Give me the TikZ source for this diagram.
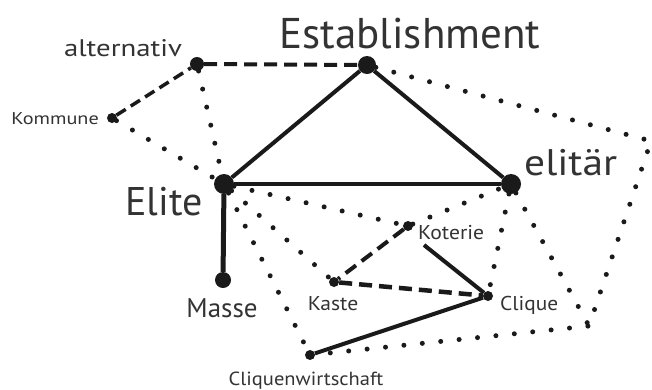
\documentclass[tikz,border=0pt]{standalone}
\usepackage{fontspec}
\setmainfont{PT Sans}
\definecolor{ink}{HTML}{1A1A1A}
\definecolor{txt}{HTML}{333333}
\newcommand{\wide}[2]{\scalebox{#1}[1]{#2}}
\begin{document}
\begin{tikzpicture}[x=1pt,y=-1pt,
  dotnode/.style={circle,fill=ink,inner sep=0pt,minimum size=#1},
  lbl/.style={text=txt,inner sep=0pt},
  solidline/.style={draw=ink,line width=4pt},
  dashline/.style={draw=ink,line width=4pt,dash pattern=on 13pt off 7pt},
  dotline/.style={draw=ink,line width=5pt,line cap=round,dash pattern=on 0pt off 18.5pt},
]
\useasboundingbox (0,0) rectangle (652,389);
\fill[white] (0,0) rectangle (652,389);
% nodes (dots)
\node[dotnode=18pt] (est) at (367,65) {};
\node[dotnode=14pt] (alt) at (197,64) {};
\node[dotnode=10pt] (kom) at (112,118) {};
\node[dotnode=20pt] (eli) at (224,184) {};
\node[dotnode=20pt] (elr) at (511,184) {};
\node[dotnode=16pt] (mas) at (223,280) {};
\node[dotnode=10pt] (kot) at (408,226) {};
\node[dotnode=10pt] (kas) at (334,282) {};
\node[dotnode=10pt] (cli) at (488,296) {};
\node[dotnode=10pt] (cw) at (310,355) {};
% labels
\node[lbl,anchor=base,font=\fontsize{43}{43}\selectfont] (estl) at (410,48) {Establishment};
\node[lbl,anchor=base,font=\fontsize{24}{24}\selectfont] (altl) at (123,56) {\wide{1.2}{alternativ}};
\node[lbl,anchor=base east,font=\fontsize{17}{17}\selectfont] (koml) at (99,124) {\wide{1.19}{Kommune}};
\node[lbl,anchor=base east,font=\fontsize{40}{40}\selectfont] (elil) at (203,215) {Elite};
\node[lbl,anchor=base west,font=\fontsize{37}{37}\selectfont] (elrl) at (524,175) {\wide{1.12}{elitär}};
\node[lbl,anchor=base,font=\fontsize{27}{27}\selectfont] (masl) at (222,317) {Masse};
\node[lbl,anchor=base,font=\fontsize{20}{20}\selectfont] (kasl) at (333,310) {\wide{1.08}{Kaste}};
\node[lbl,anchor=base west,font=\fontsize{20}{20}\selectfont] (kotl) at (418,239) {\wide{1.08}{Koterie}};
\node[lbl,anchor=base west,font=\fontsize{20}{20}\selectfont] (clil) at (500,310) {\wide{1.07}{Clique}};
\node[lbl,anchor=base,font=\fontsize{19}{19}\selectfont] (cwl) at (306,385) {\wide{1.08}{Cliquenwirtschaft}};
% helper coordinates
\coordinate (kotstart) at (424,245);
\coordinate (c1) at (651,141);
\coordinate (c2) at (589,326);
% dotted
\draw[dotline] (alt) -- (eli);
\draw[dotline] (kom) -- (eli);
\draw[dotline] (eli) -- (kot);
\draw[dotline] (kot) -- (elr);
\draw[dotline] (eli) -- (kas);
\draw[dotline] (eli) -- (cw);
\draw[dotline] (elr) -- (cli);
\draw[dotline] (elr) -- (c2);
\draw[dotline] (est) -- (c1) -- (c2) -- (cw);
% dashed
\draw[dashline] (alt) -- (est);
\draw[dashline,line width=3.5pt,dash pattern=on 11pt off 6pt] (kom) -- (alt);
\draw[dashline] (kot) -- (kas);
\draw[dashline,line width=4.5pt] (kas) -- (cli);
% solid
\draw[solidline] (eli) -- (est);
\draw[solidline] (est) -- (elr);
\draw[solidline] (eli) -- (elr);
\draw[solidline,line width=5pt] (eli) -- (mas);
\draw[solidline] (kotstart) -- (cli);
\draw[solidline] (cli) -- (cw);
\end{tikzpicture}
\end{document}
